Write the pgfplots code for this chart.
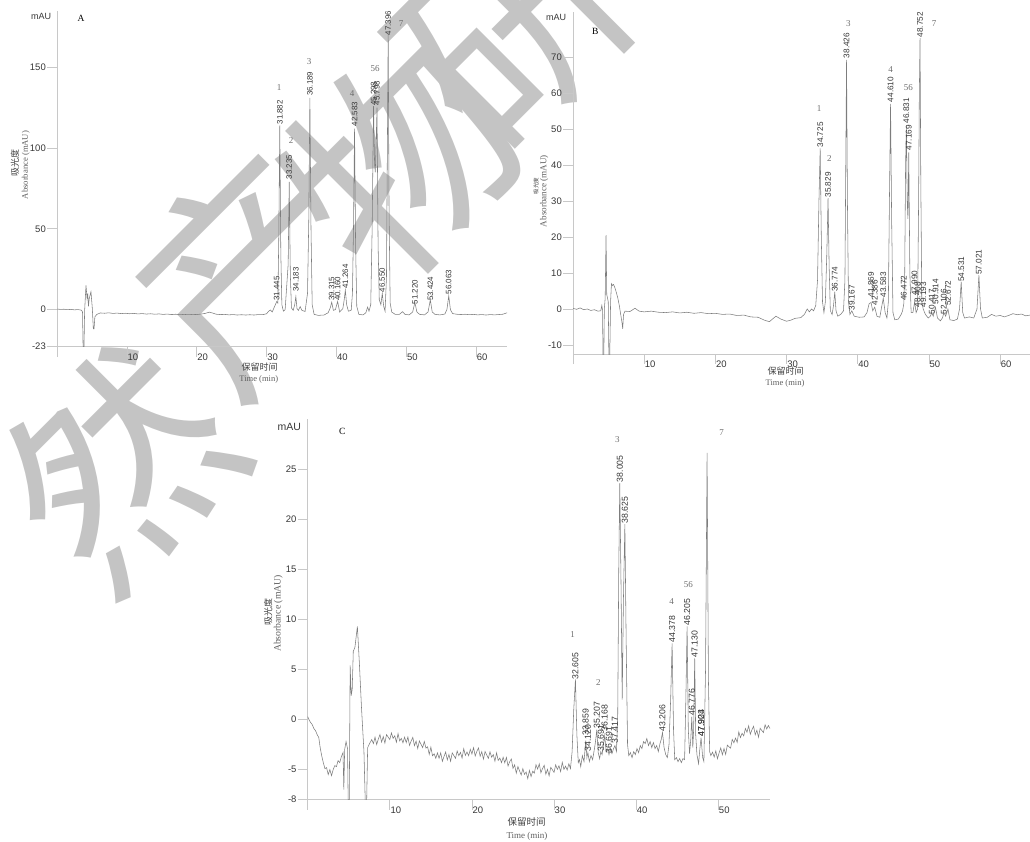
\documentclass[border=0pt]{standalone}
\usepackage{fontspec}
\setmainfont{Liberation Serif}
\setsansfont{Liberation Sans}
\newfontfamily\cjk{Noto Sans CJK SC}
\usepackage{pgfplots}
\pgfplotsset{compat=1.18}
\definecolor{axgray}{RGB}{200,200,200}
\definecolor{curve}{RGB}{125,125,125}
\definecolor{lbl}{RGB}{55,55,55}
\definecolor{num}{RGB}{110,110,110}
\definecolor{ttl}{RGB}{95,95,95}
\definecolor{wm}{RGB}{196,196,196}
\pgfplotsset{
 chrom/.style={
  scale only axis, anchor=south west,
  axis lines*=left,
  axis line style={draw=axgray, line width=0.7pt},
  tick align=outside,
  major tick length=10pt,
  tick style={draw=axgray, line width=0.7pt},
  ticklabel style={font=\sffamily\fontsize{9.5}{10}\selectfont, text=lbl, inner sep=0pt},
  xticklabel style={anchor=north west, yshift=3pt, xshift=0.5pt},
  yticklabel style={anchor=east, xshift=-1pt},
  clip mode=individual,
 },
 trace/.style={draw=curve, line width=0.55pt, mark=none},
}
\tikzset{
 rt/.style={rotate=90, anchor=west, inner sep=0.8pt, text=lbl, font=\sffamily\fontsize{7.9}{8}\selectfont},
 rtB/.style={rt, font=\sffamily\fontsize{8.2}{8}\selectfont},
 rtC/.style={rt, font=\sffamily\fontsize{8.7}{9}\selectfont},
 pk/.style={text=num, font=\fontsize{9}{9}\selectfont, inner sep=0pt},
 wmk/.style={rotate=45, text=wm, font=\cjk\fontsize{220}{220}\selectfont, inner sep=0pt},
}
\begin{document}
\begin{tikzpicture}
\path[use as bounding box] (0pt,0pt) rectangle (1030pt,-842pt);
% watermark
\node[wmk] at (120pt,-465pt) {然};
\node[wmk] at (250pt,-270pt) {产};
\node[wmk] at (400pt,-160pt) {物};
\node[wmk] at (515pt,-30pt) {研};

% ---------------- Panel A
\begin{axis}[chrom, at={(57pt,-346.7pt)}, width=450pt, height=336pt,
 xmin=0, xmax=64.4, ymin=-23, ymax=185,
 xtick={0,10,...,60}, xticklabels={,10,20,30,40,50,60},
 ytick={-23,0,50,100,150}, yticklabels={-23,0,50,100,150}]
\addplot[trace] coordinates {(0,0.3) (0.5,0.1) (1,0.2) (1.5,-0.1) (2,0.1) (2.5,-0.2) (3,0) (3.5,-0.4) (3.65,-1.5) (3.76,-30) (3.84,-30) (3.95,-1) (4.15,15) (4.3,7) (4.4,10) (4.5,2) (4.62,7) (4.86,11) (5.05,1) (5.2,-12) (5.3,-12) (5.42,-4.5) (5.7,-3) (6.2,-2.1) (6.8,-2.3) (7.4,-2.0) (8,-2.4) (8.6,-2.2) (9.2,-2.5) (9.8,-2.3) (10.4,-2.6) (11,-2.4) (11.6,-2.7) (12.2,-2.5) (12.8,-2.8) (13.4,-2.6) (14,-2.9) (14.6,-2.7) (15.2,-3.0) (15.8,-2.8) (16.4,-3.1) (17,-2.9) (17.6,-3.2) (18.2,-3.0) (18.8,-3.2) (19.4,-3.0) (20,-3.1) (20.6,-2.8) (21.2,-2.4) (21.8,-1.6) (22.3,-2.2) (22.8,-2.9) (23.4,-3.1) (24,-3.0) (24.6,-3.3) (25.2,-3.1) (25.8,-3.4) (26.4,-3.2) (27,-3.4) (27.6,-3.2) (28.2,-3.4) (28.8,-3.1) (29.4,-3.2) (30,-2.6) (30.3,-1.0) (30.55,-0.3) (30.8,-1.5) (31.1,1.5) (31.3,3.5) (31.445,5) (31.6,4) (31.74,45) (31.882,114) (32.03,35) (32.18,3) (32.4,-1) (32.65,0) (33.08,28) (33.235,79) (33.39,22) (33.55,1) (33.8,-0.5) (34.02,3) (34.183,8) (34.35,0.5) (34.55,-0.5) (34.8,1.8) (35.05,-0.5) (35.5,-1.2) (35.85,10) (36.03,55) (36.189,131) (36.35,50) (36.52,3) (36.8,-3) (37.4,-3.6) (38.2,-3.4) (38.8,-2) (39.1,1) (39.315,4.5) (39.55,-0.5) (39.85,0) (40.16,5) (40.45,-1.5) (40.9,0.5) (41.1,6) (41.264,12) (41.45,3) (41.7,-1) (42.1,-0.5) (42.28,10) (42.43,50) (42.583,112) (42.73,40) (42.9,2) (43.2,-3) (43.8,-3.3) (44.2,-2) (44.45,1.5) (44.65,-1) (44.9,3) (45.1,50) (45.298,126) (45.45,90) (45.55,85) (45.65,100) (45.798,125) (45.95,40) (46.12,6) (46.35,3) (46.55,10) (46.75,2) (46.95,-1) (47.15,20) (47.28,100) (47.396,171) (47.52,60) (47.68,4) (47.9,-1.5) (48.4,-3) (49.0,-3) (49.45,-1.3) (49.8,-3) (50.4,-3.3) (50.9,-1.5) (51.22,4.5) (51.5,-1.5) (51.9,-3) (52.6,-3.3) (53.1,-1.5) (53.424,6) (53.7,-1.5) (54.1,-3) (54.8,-3.3) (55.5,-2.8) (55.8,0) (56.063,8.5) (56.3,0) (56.6,-2.5) (57.2,-2.9) (57.8,-3.1) (58.4,-2.9) (59,-3.2) (59.6,-3.0) (60.2,-3.3) (60.8,-3.1) (61.4,-3.4) (62,-3.1) (62.6,-3.3) (63.2,-3.1) (63.8,-2.9) (64.4,-2.0)};
\node[rt] at (axis cs:31.445,5) {31.445};
\node[rt] at (axis cs:31.882,114) {31.882};
\node[rt] at (axis cs:33.235,80) {33.235};
\node[rt] at (axis cs:34.183,10.5) {34.183};
\node[rt] at (axis cs:36.189,131.7) {36.189};
\node[rt] at (axis cs:39.315,4.7) {39.315};
\node[rt] at (axis cs:40.160,4.7) {40.160};
\node[rt] at (axis cs:41.264,12.4) {41.264};
\node[rt] at (axis cs:42.583,113) {42.583};
\node[rt] at (axis cs:45.298,125.5) {45.298};
\node[rt] at (axis cs:45.798,126) {45.798};
\node[rt] at (axis cs:46.550,10.2) {46.550};
\node[rt] at (axis cs:47.396,169.3) {47.396};
\node[rt] at (axis cs:51.220,2.7) {51.220};
\node[rt] at (axis cs:53.424,4.7) {53.424};
\node[rt] at (axis cs:56.063,8.9) {56.063};
\end{axis}

% ---------------- Panel B
\begin{axis}[chrom, at={(573pt,-354pt)}, width=457pt, height=342.4pt,
 xmin=0, xmax=64.2, ymin=-12.5, ymax=82.6,
 xtick={0,10,...,60}, xticklabels={,10,20,30,40,50,60},
 ytick={-10,0,10,...,70}, yticklabels={-10,0,10,20,30,40,50,60,70}]
\addplot[trace] coordinates {(0,0.2) (0.5,-0.1) (1,0.3) (1.5,-0.2) (2,0) (2.5,-0.4) (3,-0.2) (3.5,-0.6) (3.9,-0.5) (4.05,1) (4.15,-0.3) (4.22,-15) (4.32,-15) (4.4,0) (4.52,3) (4.64,20.5) (4.74,4) (4.85,3) (4.95,2) (5.05,-15) (5.15,-15) (5.28,2) (5.4,7) (5.55,6.5) (5.7,6.8) (5.9,5.8) (6.1,4.5) (6.3,3) (6.5,1) (6.7,-1.5) (6.9,-4) (6.98,-5.5) (7.1,-1.5) (7.3,-0.6) (8,-0.7) (8.7,0.2) (9.3,-0.6) (10,-0.8) (11,-0.6) (12,-0.9) (13,-1.0) (14,-0.8) (15,-1.1) (16,-0.9) (17,-1.2) (18,-1.0) (19,-1.3) (20,-1.2) (21,-1.5) (22,-1.4) (23,-1.8) (24,-1.7) (25,-2.2) (26,-2.3) (27,-3.2) (27.6,-3.5) (28.5,-2.0) (29.2,-2.8) (30,-3.4) (30.6,-3.1) (31.2,-2.6) (32,-2.4) (32.5,-1.5) (32.9,0) (33.2,-0.8) (33.5,0) (33.8,-0.5) (34.1,1) (34.35,8) (34.55,30) (34.725,44.6) (34.88,20) (35.05,2) (35.25,-1) (35.45,2) (35.65,15) (35.829,30.8) (35.98,12) (36.15,-0.5) (36.4,-1.5) (36.6,1) (36.774,4.8) (36.95,-0.5) (37.2,-2) (37.6,-1.5) (38.0,-0.5) (38.2,8) (38.3,35) (38.426,69.2) (38.55,30) (38.7,2) (38.9,-1.5) (39.167,-0.5) (39.5,-2) (40.2,-2.3) (40.9,-2.2) (41.3,-1) (41.6,1.5) (41.869,1.8) (42.1,-0.5) (42.386,0.5) (42.7,-2) (43.1,-2.3) (43.35,0.5) (43.583,3) (43.85,-1) (44.1,-2.5) (44.3,2) (44.45,30) (44.61,57) (44.76,25) (44.95,-1) (45.2,-3) (45.7,-2.8) (46.1,-1.5) (46.3,-0.5) (46.472,1.5) (46.6,10) (46.72,40) (46.831,51) (46.95,30) (47.05,25) (47.169,43.5) (47.32,10) (47.5,-1) (47.75,-1) (47.99,2) (48.2,-1) (48.408,0) (48.55,30) (48.652,60) (48.752,75.2) (48.86,35) (49.0,2) (49.193,0) (49.5,-1.5) (49.9,-2.5) (50.2,-2) (50.417,-1) (50.6,-2) (50.914,0.5) (51.2,-2.5) (51.6,-3.3) (51.9,-2.5) (52.106,-1) (52.35,-2) (52.672,0) (52.95,-3) (53.5,-3.2) (54.0,-2.8) (54.3,0) (54.531,7.6) (54.75,-1) (55.0,-2.5) (55.7,-2.2) (56.3,-2.5) (56.75,0) (57.021,9.4) (57.25,0) (57.5,-2.5) (58.2,-2.3) (58.8,-1.5) (59.4,-2.0) (60,-1.8) (60.6,-2.2) (61.2,-1.8) (61.8,-1.3) (62.4,-1.6) (63,-1.4) (63.6,-1.9) (64.2,-1.7)};
\node[rtB] at (axis cs:34.725,44.6) {34.725};
\node[rtB] at (axis cs:35.829,30.7) {35.829};
\node[rtB] at (axis cs:36.774,4.5) {36.774};
\node[rtB] at (axis cs:38.426,69.4) {38.426};
\node[rtB] at (axis cs:39.167,-0.7) {39.167};
\node[rtB] at (axis cs:41.869,3.0) {41.869};
\node[rtB] at (axis cs:42.386,0.8) {42.386};
\node[rtB] at (axis cs:43.583,3.0) {43.583};
\node[rtB] at (axis cs:44.610,57.2) {44.610};
\node[rtB] at (axis cs:46.472,2.0) {46.472};
\node[rtB] at (axis cs:46.831,51.3) {46.831};
\node[rtB] at (axis cs:47.169,43.8) {47.169};
\node[rtB] at (axis cs:47.990,3.4) {47.990};
\node[rtB] at (axis cs:48.408,0.2) {48.408};
\node[rtB] at (axis cs:48.752,75.2) {48.752};
\node[rtB] at (axis cs:49.193,0.2) {49.193};
\node[rtB] at (axis cs:50.417,-1.7) {50.417};
\node[rtB] at (axis cs:50.914,1.1) {50.914};
\node[rtB] at (axis cs:52.106,-1.7) {52.106};
\node[rtB] at (axis cs:52.672,0.6) {52.672};
\node[rtB] at (axis cs:54.531,7.3) {54.531};
\node[rtB] at (axis cs:57.021,9.2) {57.021};
\end{axis}

% ---------------- Panel C
\begin{axis}[chrom, at={(307.7pt,-799.7pt)}, width=462.3pt, height=380.8pt,
 xmin=0, xmax=56.3, ymin=-8, ymax=30,
 xtick={0,10,...,50}, xticklabels={,10,20,30,40,50},
 ytick={-8,-5,0,5,10,15,20,25}, yticklabels={-8,-5,0,5,10,15,20,25}]
\addplot[trace] coordinates {(0,0.3) (0.15,0.0) (0.35,-0.3) (0.55,-0.5) (0.75,-0.9) (0.95,-1.1) (1.15,-1.5) (1.35,-1.8) (1.5,-2.7) (1.7,-3.6) (1.9,-4.3) (2.1,-4.9) (2.3,-4.8) (2.5,-5.5) (2.7,-5.0) (2.9,-5.6) (3.1,-5.0) (3.3,-4.6) (3.5,-4.7) (3.7,-4.1) (3.9,-4.3) (4.1,-3.7) (4.3,-3.3) (4.4,-7.0) (4.5,-3.0) (4.67,-2.2) (4.85,-2.9) (4.95,-9.5) (5.05,-9.5) (5.17,5.4) (5.3,2.4) (5.42,3.0) (5.55,6.8) (5.75,7.2) (6.05,9.3) (6.3,5.5) (6.55,1.2) (6.85,-3.2) (7.05,-9.5) (7.15,-9.5) (7.3,-2.8) (7.6,-2.3) (7.8,-2.0) (8.0,-2.4) (8.2,-1.75) (8.4,-2.5) (8.6,-1.95) (8.8,-1.5) (9.0,-2.25) (9.2,-1.7) (9.4,-2.35) (9.6,-1.5) (9.8,-1.75) (10.0,-2.0) (10.2,-1.34) (10.4,-1.88) (10.6,-1.62) (10.8,-2.26) (11.0,-1.4) (11.2,-2.14) (11.4,-1.88) (11.6,-2.32) (11.8,-1.76) (12.0,-2.3) (12.2,-1.74) (12.4,-2.58) (12.6,-2.14) (12.8,-1.78) (13.0,-2.61) (13.2,-2.15) (13.4,-2.89) (13.6,-2.13) (13.8,-2.46) (14.0,-2.8) (14.2,-2.18) (14.4,-2.85) (14.6,-2.72) (14.8,-3.48) (15.0,-2.75) (15.2,-3.62) (15.4,-3.42) (15.6,-3.87) (15.8,-3.32) (16.0,-3.87) (16.2,-3.32) (16.4,-4.17) (16.6,-3.68) (16.8,-3.25) (17.0,-4.02) (17.2,-3.49) (17.4,-4.16) (17.6,-3.33) (17.8,-3.6) (18.0,-3.87) (18.2,-3.14) (18.4,-3.61) (18.6,-3.28) (18.8,-3.85) (19.0,-2.91) (19.2,-3.58) (19.4,-3.24) (19.6,-3.61) (19.8,-2.97) (20.0,-3.44) (20.2,-2.8) (20.4,-3.64) (20.6,-3.18) (20.8,-2.83) (21.0,-3.67) (21.2,-3.21) (21.4,-3.95) (21.6,-3.19) (21.8,-3.53) (22.0,-3.88) (22.2,-3.22) (22.4,-3.76) (22.6,-3.5) (22.8,-4.16) (23.0,-3.32) (23.2,-4.08) (23.4,-3.84) (23.6,-4.3) (23.8,-3.76) (24.0,-4.32) (24.2,-3.78) (24.4,-4.64) (24.6,-4.2) (24.8,-3.94) (25.0,-4.88) (25.2,-4.52) (25.4,-5.35) (25.6,-4.69) (25.8,-5.13) (26.0,-5.53) (26.2,-4.9) (26.4,-5.47) (26.6,-5.23) (26.8,-5.9) (27.0,-5.07) (27.2,-5.69) (27.4,-5.16) (27.6,-5.34) (27.8,-4.51) (28.0,-4.94) (28.2,-4.42) (28.4,-5.31) (28.6,-4.89) (28.8,-4.57) (29.0,-5.46) (29.2,-4.97) (29.4,-5.62) (29.6,-4.77) (29.8,-5.02) (30.0,-5.27) (30.2,-4.52) (30.4,-4.97) (30.6,-4.62) (30.8,-5.2) (31.0,-4.28) (31.2,-4.97) (31.4,-4.65) (31.6,-5.04) (31.8,-4.42) (32.0,-4.9) (32.2,-3.2) (32.4,1.0) (32.605,4.0) (32.78,-1.5) (32.95,-4.3) (33.1,-4.0) (33.25,-4.7) (33.45,-3.6) (33.65,-4.2) (33.859,-2.1) (34.0,-3.8) (34.12,-3.3) (34.3,-4.2) (34.5,-3.6) (34.7,-4.0) (34.9,-3.0) (35.05,-2.2) (35.207,-1.0) (35.38,-3.3) (35.55,-3.9) (35.691,-3.2) (35.85,-3.5) (36.0,-2.6) (36.168,-1.6) (36.35,-3.2) (36.55,-3.0) (36.691,-3.5) (36.85,-2.9) (37.05,-3.4) (37.25,-2.9) (37.417,-2.6) (37.6,-3.2) (37.75,0) (37.88,15) (38.005,23.6) (38.15,14) (38.3,2) (38.45,12) (38.625,19.5) (38.78,8) (38.95,-2.5) (39.1,-3.6) (39.3,-3.3) (39.5,-3.8) (39.7,-3.2) (39.9,-3.5) (40.1,-2.9) (40.3,-3.3) (40.5,-2.6) (40.7,-2.9) (40.9,-2.2) (41.1,-2.4) (41.3,-1.9) (41.5,-2.6) (41.7,-2.2) (41.9,-2.8) (42.1,-2.3) (42.3,-2.9) (42.5,-2.6) (42.7,-3.2) (42.9,-2.4) (43.05,-2.0) (43.206,-1.3) (43.4,-2.8) (43.6,-3.5) (43.8,-3.8) (44.0,-2.5) (44.2,2) (44.378,7.6) (44.55,-1) (44.7,-4.0) (44.9,-3.8) (45.1,-4.2) (45.3,-3.9) (45.5,-4.3) (45.7,-3.9) (45.9,-4.0) (46.05,2) (46.205,9.3) (46.35,-1) (46.5,-3.4) (46.65,-2) (46.776,0.3) (46.9,-2.8) (47.0,-1) (47.13,6.1) (47.25,-1.5) (47.4,-3.5) (47.6,-4.4) (47.75,-3) (47.903,-1.8) (47.924,-2.0) (48.1,-3.8) (48.25,-4.2) (48.45,5) (48.637,26.6) (48.8,4) (48.95,-3.2) (49.1,-3.6) (49.3,-3.25) (49.5,-3.75) (49.7,-3.13) (49.9,-3.91) (50.1,-3.34) (50.3,-2.83) (50.5,-3.51) (50.7,-2.89) (50.9,-3.48) (51.1,-2.56) (51.3,-2.72) (51.5,-2.85) (51.7,-1.98) (51.9,-2.32) (52.1,-1.85) (52.3,-2.28) (52.5,-1.23) (52.7,-1.8) (52.9,-1.37) (53.1,-1.63) (53.3,-0.9) (53.5,-1.27) (53.7,-0.62) (53.9,-1.47) (54.1,-1.02) (54.3,-0.67) (54.5,-1.52) (54.7,-1.07) (54.9,-1.76) (55.1,-0.87) (55.3,-1.09) (55.5,-1.3) (55.7,-0.52) (55.9,-0.94) (56.1,-0.6) (56.3,-0.9)};
\node[rtC] at (axis cs:32.605,3.9) {32.605};
\node[rtC] at (axis cs:33.859,-1.7) {33.859};
\node[rtC] at (axis cs:34.120,-3.3) {34.120};
\node[rtC] at (axis cs:35.207,-1.0) {35.207};
\node[rtC] at (axis cs:35.691,-3.3) {35.691};
\node[rtC] at (axis cs:36.168,-1.3) {36.168};
\node[rtC] at (axis cs:36.691,-3.5) {36.691};
\node[rtC] at (axis cs:37.417,-2.5) {37.417};
\node[rtC] at (axis cs:38.005,23.6) {38.005};
\node[rtC] at (axis cs:38.625,19.5) {38.625};
\node[rtC] at (axis cs:43.206,-1.3) {43.206};
\node[rtC] at (axis cs:44.378,7.6) {44.378};
\node[rtC] at (axis cs:46.205,9.3) {46.205};
\node[rtC] at (axis cs:46.776,0.3) {46.776};
\node[rtC] at (axis cs:47.130,6.1) {47.130};
\node[rtC] at (axis cs:47.903,-1.8) {47.903};
\node[rtC] at (axis cs:47.924,-1.8) {47.924};
\end{axis}

% ---------------- texts A
\node[font=\sffamily\fontsize{9}{9}\selectfont, text=lbl] at (41.2pt,-16pt) {mAU};
\node[font=\fontsize{9.5}{9}\selectfont] at (81pt,-18pt) {A};
\node[rotate=90, font=\cjk\fontsize{9}{9}\selectfont, text=black!75] at (15pt,-163pt) {吸光度};
\node[rotate=90, font=\fontsize{8.6}{9}\selectfont, text=ttl] at (25.7pt,-165pt) {Absorbance (mAU)};
\node[font=\cjk\fontsize{9}{9}\selectfont, text=black!75] at (259.5pt,-367.5pt) {保留时间};
\node[font=\fontsize{8.5}{9}\selectfont, text=ttl] at (258.8pt,-379pt) {Time (min)};
\node[pk] at (279pt,-88pt) {1};
\node[pk] at (291pt,-141pt) {2};
\node[pk] at (309pt,-62pt) {3};
\node[pk] at (352pt,-94pt) {4};
\node[pk] at (375pt,-69pt) {56};
\node[pk] at (401pt,-24pt) {7};
% ---------------- texts B
\node[font=\sffamily\fontsize{9}{9}\selectfont, text=lbl] at (556.2pt,-17.8pt) {mAU};
\node[font=\fontsize{9.5}{9}\selectfont] at (595.3pt,-31pt) {B};
\node[rotate=90, font=\cjk\fontsize{5.5}{6}\selectfont, text=black!75] at (536pt,-186pt) {吸光度};
\node[rotate=90, font=\fontsize{9.1}{9}\selectfont, text=ttl] at (544.3pt,-191pt) {Absorbance (mAU)};
\node[font=\cjk\fontsize{9}{9}\selectfont, text=black!75] at (785.5pt,-371pt) {保留时间};
\node[font=\fontsize{8.5}{9}\selectfont, text=ttl] at (785pt,-383.5pt) {Time (min)};
\node[pk] at (819pt,-109pt) {1};
\node[pk] at (829.3pt,-159pt) {2};
\node[pk] at (848.3pt,-24pt) {3};
\node[pk] at (890.7pt,-70pt) {4};
\node[pk] at (908.3pt,-88pt) {56};
\node[pk] at (934pt,-24pt) {7};
% ---------------- texts C
\node[font=\sffamily\fontsize{10.5}{10}\selectfont, text=lbl] at (289.2pt,-427.2pt) {mAU};
\node[font=\fontsize{9.5}{9}\selectfont] at (342.3pt,-431.7pt) {C};
\node[rotate=90, font=\cjk\fontsize{9}{9}\selectfont, text=black!75] at (268.3pt,-611.7pt) {吸光度};
\node[rotate=90, font=\fontsize{9.7}{9}\selectfont, text=ttl] at (278.3pt,-613.5pt) {Absorbance (mAU)};
\node[font=\cjk\fontsize{9.5}{9}\selectfont, text=black!75] at (526.7pt,-822pt) {保留时间};
\node[font=\fontsize{9}{9}\selectfont, text=ttl] at (527pt,-836pt) {Time (min)};
\node[pk] at (572.7pt,-634.3pt) {1};
\node[pk] at (598.3pt,-682.3pt) {2};
\node[pk] at (617.3pt,-440pt) {3};
\node[pk] at (671.7pt,-601.7pt) {4};
\node[pk] at (688.3pt,-585pt) {56};
\node[pk] at (721.7pt,-432.7pt) {7};
\end{tikzpicture}
\end{document}
